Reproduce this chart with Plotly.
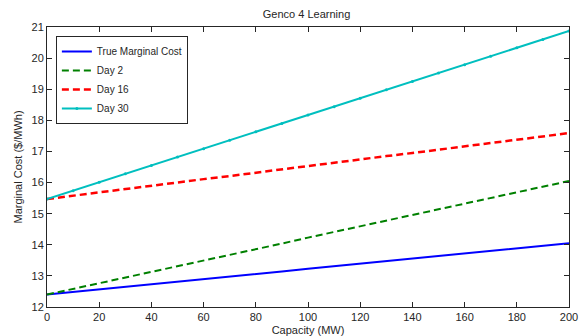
import plotly.graph_objects as go

capacity = [0, 10, 20, 30, 40, 50, 60, 70, 80, 90, 100, 110, 120, 130, 140, 150, 160, 170, 180, 190, 200]
true_mc = [12.4, 12.48, 12.57, 12.65, 12.73, 12.81, 12.9, 12.98, 13.06, 13.14, 13.23, 13.31, 13.39, 13.47, 13.56, 13.64, 13.72, 13.8, 13.89, 13.97, 14.05]
day2 = [12.4, 12.58, 12.77, 12.95, 13.13, 13.31, 13.5, 13.68, 13.86, 14.04, 14.23, 14.41, 14.59, 14.77, 14.96, 15.14, 15.32, 15.5, 15.69, 15.87, 16.05]
day16 = [15.47, 15.58, 15.68, 15.79, 15.89, 16.0, 16.11, 16.21, 16.32, 16.42, 16.53, 16.64, 16.74, 16.85, 16.95, 17.06, 17.17, 17.27, 17.38, 17.48, 17.59]
day30 = [15.47, 15.74, 16.01, 16.28, 16.55, 16.82, 17.09, 17.36, 17.63, 17.9, 18.17, 18.44, 18.71, 18.98, 19.25, 19.52, 19.79, 20.06, 20.33, 20.6, 20.87]

x_ticks = [0, 20, 40, 60, 80, 100, 120, 140, 160, 180, 200]
y_ticks = [12, 13, 14, 15, 16, 17, 18, 19, 20, 21]

font = "Liberation Sans, Arial, sans-serif"

fig = go.Figure()
fig.add_trace(go.Scatter(x=capacity, y=true_mc, mode="lines", name="True Marginal Cost",
                         line=dict(color="#0000FF", width=2)))
fig.add_trace(go.Scatter(x=capacity, y=day2, mode="lines", name="Day 2",
                         line=dict(color="#008000", width=2, dash="7px,4px")))
fig.add_trace(go.Scatter(x=capacity, y=day16, mode="lines", name="Day 16",
                         line=dict(color="#FF0000", width=2.5, dash="7px,4px")))
fig.add_trace(go.Scatter(x=capacity, y=day30, mode="lines+markers", name="Day 30",
                         line=dict(color="#00BFBF", width=2),
                         marker=dict(symbol="circle", size=3, color="#00BFBF")))

fig.update_layout(
    width=585, height=336,
    margin=dict(l=47, r=16, t=27, b=29, autoexpand=False),
    paper_bgcolor="white", plot_bgcolor="white",
    font=dict(family=font, size=11, color="#262626"),
    title=dict(text="Genco 4 Learning", x=0.524, xanchor="center", y=0.958, yanchor="middle",
               font=dict(size=11, color="#262626"), automargin=False),
    showlegend=True,
    legend=dict(x=0.017, y=0.968, xanchor="left", yanchor="top",
                bgcolor="white", bordercolor="#262626", borderwidth=1,
                font=dict(size=10, color="#262626"), tracegroupgap=0, itemwidth=30),
    xaxis=dict(range=[0, 200], tickvals=x_ticks, ticks="inside", ticklen=5, tickcolor="#262626",
               showline=True, linecolor="#262626", linewidth=1, mirror="ticks",
               showgrid=False, zeroline=False, automargin=False,
               title=dict(text="Capacity (MW)", standoff=4, font=dict(size=11)),
               tickfont=dict(size=11)),
    yaxis=dict(range=[12, 21], tickvals=y_ticks, ticks="inside", ticklen=5, tickcolor="#262626",
               showline=True, linecolor="#262626", linewidth=1, mirror="ticks",
               showgrid=False, zeroline=False, automargin=False,
               title=dict(text="Marginal Cost ($/MWh)", standoff=6, font=dict(size=11)),
               tickfont=dict(size=11)),
)

fig.write_html("out.html", config={"displayModeBar": False},
               post_script="document.body.style.margin='0';document.body.style.overflow='hidden';")
